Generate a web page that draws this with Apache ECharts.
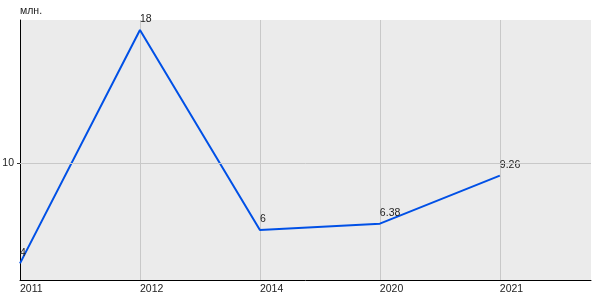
<!DOCTYPE html>
<html><head><meta charset="utf-8">
<script src="https://cdn.jsdelivr.net/npm/echarts@6/dist/echarts.min.js"></script>
<style>html,body{margin:0;padding:0;background:#fff}#c{width:600px;height:300px}</style>
</head><body><div id="c"></div>
<script>
const categories = ['2011','2012','2014','2020','2021'];
const values = [4, 18, 6, 6.38, 9.26];
const valueLabels = ['4','18','6','6.38','9.26'];
const yGridValues = [10];
const yUnit = 'млн.';

const chart = echarts.init(document.getElementById('c'), null, {renderer:'canvas'});
const font = '"Liberation Sans Narrow", "Arial Narrow", "Liberation Sans", Arial, sans-serif';
const fs = 10.5;
chart.setOption({
  animation:false,
  grid:{left:20, right:9, top:20, bottom:20, show:true, backgroundColor:'#ebebeb', borderWidth:0,
        containLabel:false, outerBoundsMode:'none'},
  xAxis:{
    type:'value', min:0, max:4.76, interval:1,
    axisLine:{show:true, onZero:false, lineStyle:{color:'#000', width:1}},
    axisTick:{show:false},
    axisLabel:{
      fontFamily:font, fontSize:fs, color:'#222', align:'left', margin:4,
      showMaxLabel:false,
      formatter:v => categories[Math.round(v)] !== undefined && Math.abs(v-Math.round(v))<1e-6 ? categories[Math.round(v)] : ''
    },
    splitLine:{show:true, showMinLine:false, showMaxLine:false, lineStyle:{color:'#c8c8c8', width:1}}
  },
  yAxis:{
    type:'value', min:3, max:18.6,
    name:yUnit, nameLocation:'end', nameGap:3,
    nameTextStyle:{fontFamily:font, fontSize:fs, color:'#222', align:'left'},
    axisLine:{show:true, lineStyle:{color:'#000', width:1}},
    axisTick:{show:true, length:3, customValues:yGridValues, lineStyle:{color:'#333'}},
    splitLine:{show:false},
    axisLabel:{fontFamily:font, fontSize:fs, color:'#222', margin:6, padding:[0,0,6,0], customValues:yGridValues}
  },
  series:[{
    type:'line',
    data:values.map((v,i)=>[i,v]),
    showSymbol:true, symbol:'circle', symbolSize:2,
    itemStyle:{color:'rgba(0,0,0,0)', borderWidth:0},
    lineStyle:{color:'#0050e6', width:2},
    label:{show:true, position:'top', align:'left', distance:4,
      fontFamily:font, fontSize:fs, color:'#222',
      formatter:p => valueLabels[p.dataIndex]},
    labelLayout:{hideOverlap:false},
    markLine:{silent:true, symbol:'none', label:{show:false},
      lineStyle:{color:'#c8c8c8', type:'solid', width:1},
      data:yGridValues.map(v=>({yAxis:v}))},
    z:3
  }]
});
</script></body></html>
